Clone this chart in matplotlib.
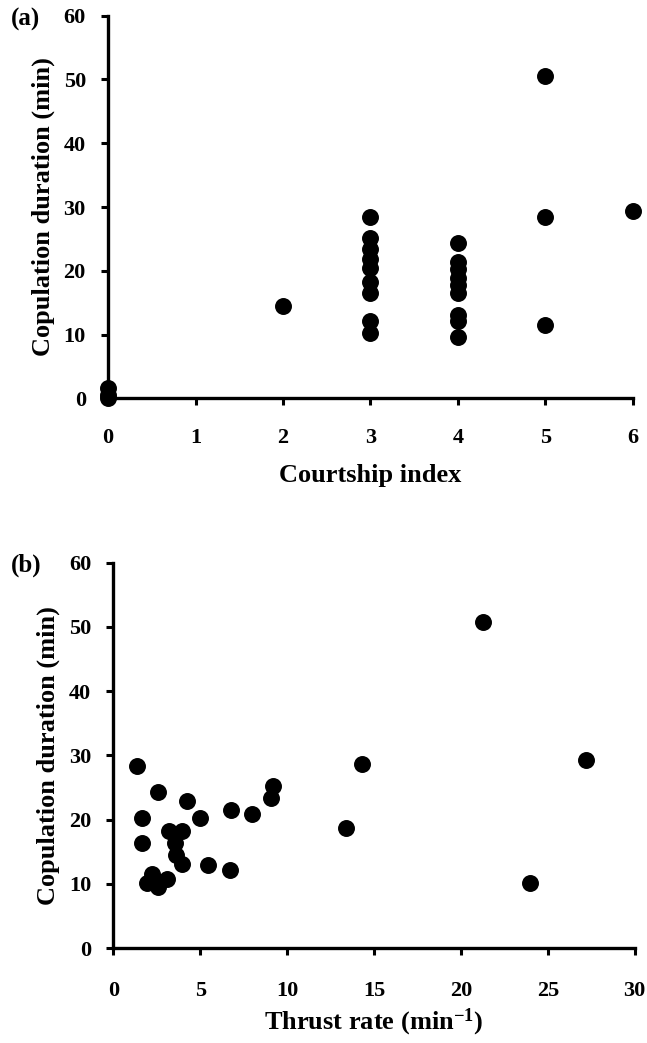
import numpy as np
import matplotlib
matplotlib.use("Agg")
from matplotlib import pyplot as plt

plt.rcParams['font.family'] = ['Liberation Serif', 'DejaVu Serif']
plt.rcParams['font.weight'] = 'bold'
plt.rcParams['mathtext.fontset'] = 'custom'
plt.rcParams['mathtext.rm'] = 'Liberation Serif:bold'
plt.rcParams['mathtext.it'] = 'Liberation Serif:bold'
plt.rcParams['mathtext.bf'] = 'Liberation Serif:bold'

# panel (a): courtship index vs copulation duration
courtship_index = [0, 0, 0,
                   2,
                   3, 3, 3, 3, 3, 3, 3, 3, 3,
                   4, 4, 4, 4, 4, 4, 4, 4, 4,
                   5, 5, 5,
                   6]
duration_a = [1.7, 0.6, 0.0,
              14.5,
              28.4, 25.1, 23.4, 21.8, 20.5, 18.2, 16.5, 12.1, 10.3,
              24.4, 21.4, 20.3, 18.8, 17.8, 16.5, 13.1, 12.2, 9.6,
              50.6, 28.5, 11.5,
              29.4]

# panel (b): thrust rate vs copulation duration
thrust_rate = [1.36, 2.6, 4.24, 1.65, 5.0, 6.76, 7.97, 9.18, 9.06, 1.65,
               3.22, 3.98, 3.56, 3.62, 3.98, 5.44, 6.69, 2.22, 1.93, 2.55,
               3.08, 2.45, 13.4, 14.3, 21.3, 24.0, 27.2]
duration_b = [28.3, 24.3, 22.9, 20.3, 20.3, 21.5, 20.8, 25.2, 23.3, 16.3,
              18.2, 18.2, 16.4, 14.5, 13.1, 12.9, 12.1, 11.5, 10.2, 9.5,
              10.7, 10.5, 18.7, 28.6, 50.8, 10.2, 29.3]

xticks_a = [0, 1, 2, 3, 4, 5, 6]
xticks_b = [0, 5, 10, 15, 20, 25, 30]
yticks = [0, 10, 20, 30, 40, 50, 60]


def style_axis(ax, xpad):
    for side in ['top', 'right']:
        ax.spines[side].set_visible(False)
    for side in ['left', 'bottom']:
        ax.spines[side].set_linewidth(2.4)
    ax.tick_params(axis='both', direction='out', length=5, width=2.2,
                   labelsize=16)
    ax.tick_params(axis='x', pad=xpad)
    ax.tick_params(axis='y', pad=11)
    for lab in ax.get_xticklabels() + ax.get_yticklabels():
        lab.set_fontweight('bold')


fig = plt.figure(figsize=(6.47, 10.43), dpi=100)

ax1 = fig.add_axes([0.167, 0.618, 0.811, 0.367])
ax1.scatter(courtship_index, duration_a, s=125, color='black', clip_on=False, zorder=3)
ax1.set_xlim(0, 6)
ax1.set_ylim(0, 60)
ax1.set_xticks(xticks_a)
ax1.set_yticks(yticks)
style_axis(ax1, 16)
ax1.set_xlabel('Courtship index', fontsize=19, fontweight='bold', labelpad=12)
ax1.set_ylabel('Copulation duration (min)', fontsize=19, fontweight='bold', labelpad=6)

ax2 = fig.add_axes([0.175, 0.091, 0.806, 0.3695])
ax2.scatter(thrust_rate, duration_b, s=125, color='black', clip_on=False, zorder=3)
ax2.set_xlim(0, 30)
ax2.set_ylim(0, 60)
ax2.set_xticks(xticks_b)
ax2.set_yticks(yticks)
style_axis(ax2, 19)
ax2.set_xlabel('Thrust rate (min$^{-1}$)', fontsize=19, fontweight='bold', labelpad=4)
ax2.set_ylabel('Copulation duration (min)', fontsize=19, fontweight='bold', labelpad=6)

fig.text(0.017, 0.981, '(a)', fontsize=18, fontweight='bold', va='center')
fig.text(0.017, 0.458, '(b)', fontsize=18, fontweight='bold', va='center')

fig.savefig('out.png', dpi=100)
